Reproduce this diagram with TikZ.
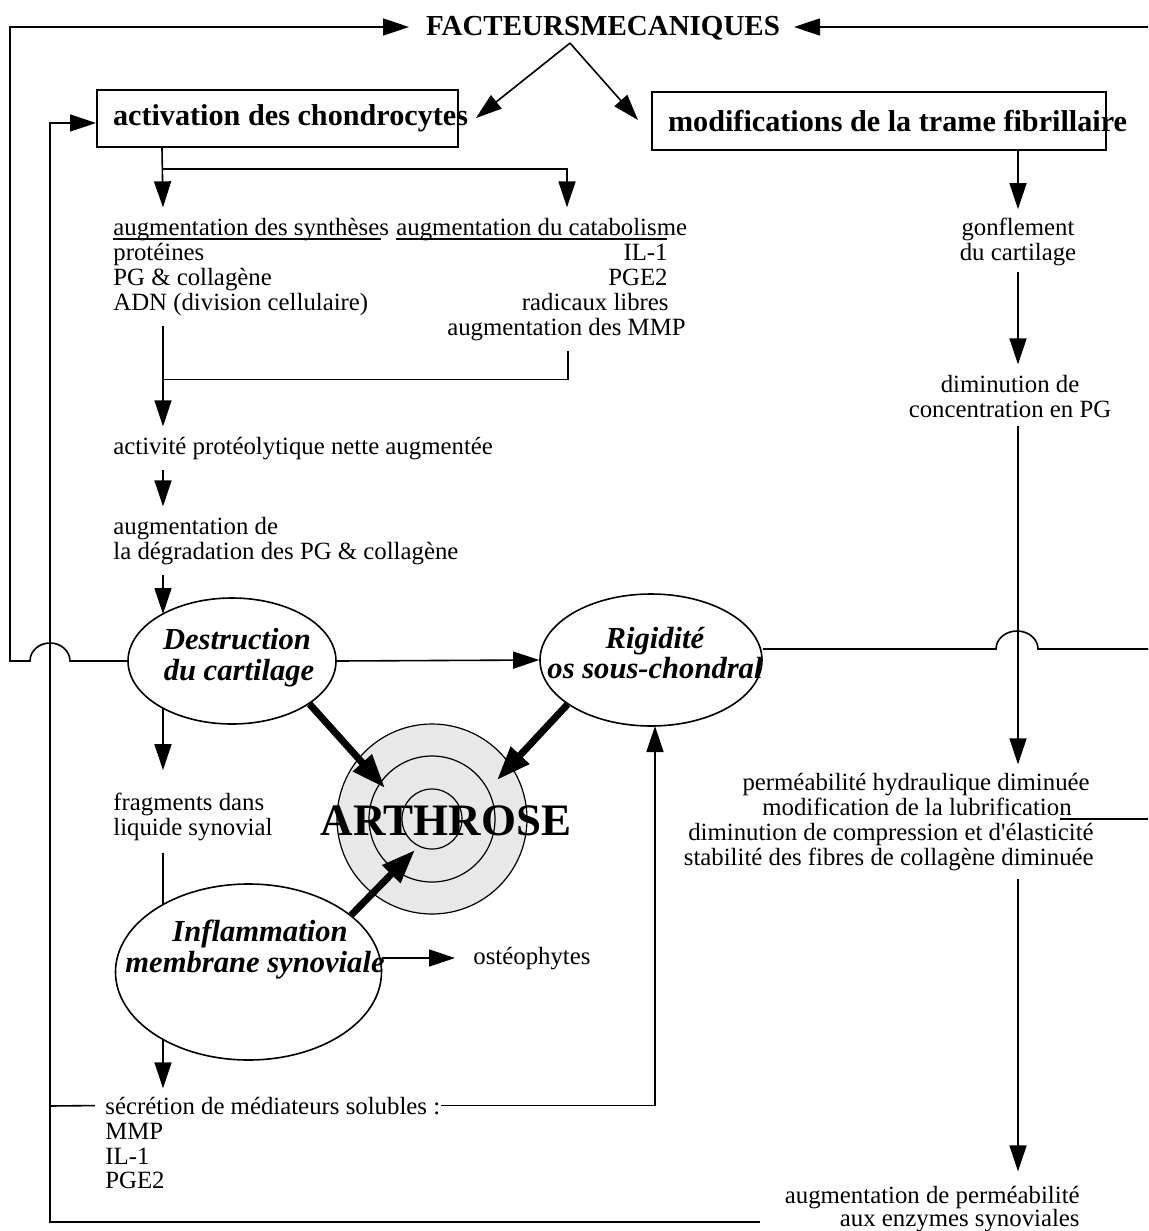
\documentclass[tikz,border=0pt]{standalone}
\usepackage{fontspec}
\setmainfont{Liberation Serif}[Ligatures=TeXOff]
\usetikzlibrary{arrows.meta,shapes.geometric,calc}
\definecolor{tgfill}{gray}{0.91}
\begin{document}
\begin{tikzpicture}[x=0.5pt,y=-0.5pt,
  ln/.style={line width=0.8pt},
  arr/.style={line width=0.8pt,-{Triangle[length=13pt,width=8.5pt]}},
  thk/.style={line width=3.5pt,-{Triangle[length=17pt,width=12pt]}},
  tx/.style={inner sep=0pt,font=\fontsize{12.4}{12.4}\selectfont},
  btx/.style={inner sep=0pt,font=\fontsize{14.5}{14.5}\selectfont\bfseries},
  itx/.style={inner sep=0pt,font=\fontsize{15.3}{15.3}\selectfont\bfseries\itshape},
  bigtx/.style={inner sep=0pt,font=\fontsize{22.5}{22.5}\selectfont\bfseries},
  ell/.style={draw,ellipse,line width=0.8pt,inner sep=0pt},
  box/.style={draw,rectangle,line width=1pt,inner sep=0pt,font=\fontsize{15.1}{15.1}\selectfont\bfseries},
  ring/.style={draw,circle,line width=0.6pt,inner sep=0pt},
  uline/.style={line width=1.3pt}
]
\useasboundingbox (0,0) rectangle (1148,1231);

% ---------- title and boxes
\node[btx,anchor=base] (fm) at (603,35) {FACTEURSMECANIQUES};
\node[box,minimum width=180.5pt,minimum height=28.5pt] (act) at (277.5,118.5)
  {\makebox[180.5pt][l]{\hspace{8pt}activation des chondrocytes}};
\node[box,minimum width=227pt,minimum height=29pt] (mod) at (879,121)
  {\makebox[227pt][l]{\hspace{8pt}modifications de la trame fibrillaire}};

\coordinate (apex) at ($(fm.south)+(-33,3)$);
\coordinate (tA) at (476,118);
\coordinate (tB) at (638,120);
\draw[arr] (apex) -- (tA);
\draw[arr] (apex) -- (tB);

% ---------- ellipses and target
\node[ell,minimum width=104pt,minimum height=63pt] (dest) at (232,661) {};
\node[ell,minimum width=111pt,minimum height=66pt] (rig) at (651,660) {};
\node[ell,minimum width=133pt,minimum height=88pt] (infl) at (248.5,972) {};
\node[itx,anchor=base] (dt1) at (237,649) {Destruction};
\node[itx,anchor=base] (dt2) at (239,680) {du cartilage};
\node[itx,anchor=base] (rt1) at (655,648) {Rigidité};
\node[itx,anchor=base] (rt2) at (655,678) {os sous-chondral};
\node[itx,anchor=base] (it1) at (260,941) {Inflammation};
\node[itx,anchor=base] (it2) at (255,972) {membrane synoviale};

\node[ring,fill=tgfill,minimum size=95pt] (tg) at (432,819) {};
\node[ring,minimum size=63pt] (tg2) at (tg) {};
\node[ring,minimum size=30pt] (tg3) at (tg) {};
\node[bigtx,anchor=base] (arth) at (446,835) {ARTHROSE};

\draw[thk] (dest.-29) -- ($(tg)+(-47,-31)$);
\draw[thk] (rig.-152) -- ($(tg)+(65,-39)$);
\draw[thk] (infl.29) -- ($(tg)+(-17,31)$);

% ---------- outer loops
\coordinate (tL) at (409,27);
\coordinate (tR) at (794,27);
\coordinate (eR) at (1148,27);
\draw[arr] (eR) -- (tR);
\draw[arr] (dest.west) -- (70,661)
  arc[start angle=0,end angle=180,x radius=10pt,y radius=9pt] -- (10,661) |- (tL);

\coordinate (lvtop) at (50,123);
\coordinate (b1) at (760,1222);
\draw[arr] (b1) -| (lvtop) -- (act.west |- lvtop);

\draw[arr] (dest.east) -- (rig.west);
\coordinate (eR2) at (1148,649);
\draw[ln] (rig.east |- eR2) -- (996,649)
  arc[start angle=180,end angle=0,x radius=10.5pt,y radius=9pt] -- (eR2);

% ---------- left column
\node[tx,anchor=base west] (s1) at (113,235) {augmentation des synthèses};
\node[tx,anchor=base west] (s2) at (113,260) {protéines};
\node[tx,anchor=base west] (s3) at (113,285) {PG \& collagène};
\node[tx,anchor=base west] (s4) at (113,310) {ADN (division cellulaire)};
\node[tx,anchor=base west] (c1) at (396,235) {augmentation du catabolisme};
\node[tx,anchor=base east] (c2) at (668,260) {IL-1};
\node[tx,anchor=base east] (c3) at (668,285) {PGE2};
\node[tx,anchor=base east] (c4) at (669,310) {radicaux libres};
\node[tx,anchor=base east] (c5) at (686,335) {augmentation des MMP};
\draw[uline] ($(s1.base west)+(0,4)$) -- ($(s1.base east)+(-8,4)$);
\draw[uline] ($(c1.base west)+(0,4)$) -- ($(c1.base east)+(-20,4)$);

\coordinate (j0) at ($(act.south west)+(66,0)$);
\draw[arr] (j0) -- ($(s1.north west)+(50,-10)$);
\draw[arr] ($(j0)+(0,21)$) -| ($(c1.north west)+(171,-10)$);

\node[tx,anchor=base west] (ac) at (113,454) {activité protéolytique nette augmentée};
\node[tx,anchor=base west] (dg1) at (113,534) {augmentation de};
\node[tx,anchor=base west] (dg2) at (113,559) {la dégradation des PG \& collagène};
\draw[arr] ($(s4.south west)+(50,10)$) -- ($(ac.north west)+(50,-10)$);
\draw[ln] ($(c5.south west)+(121,10)$) |- ($(s4.south west)+(50,64)$);
\draw[arr] ($(ac.south west)+(50,10)$) -- ($(dg1.north west)+(50,-10)$);

\coordinate (tD) at (163,614);
\coordinate (dB) at (163,708);
\coordinate (iT) at (163,905);
\coordinate (iB) at (163,1039);
\coordinate (rB) at (655,726);
\draw[arr] ($(dg2.south west)+(50,10)$) -- (tD);

\node[tx,anchor=base west] (f1) at (113,810) {fragments dans};
\node[tx,anchor=base west] (f2) at (113,835) {liquide synovial};
\draw[arr] (dB) -- ($(f1.north west)+(50,-22)$);
\draw[ln] ($(f2.south west)+(50,12)$) -- (iT);

\node[tx,anchor=base west] (ost) at (473,964) {ostéophytes};
\coordinate (iE) at ([yshift=7pt]infl.east);
\draw[arr] (iE) -- ($(iE -| ost.west)+(-18,0)$);

\node[tx,anchor=base west] (sec) at (105,1114) {sécrétion de médiateurs solubles :};
\node[tx,anchor=base west] (m1) at (105,1139) {MMP};
\node[tx,anchor=base west] (m2) at (105,1164) {IL-1};
\node[tx,anchor=base west] (m3) at (105,1188) {PGE2};
\draw[arr] (iB) -- ($(sec.north west)+(58,-8)$);
\draw[arr] (sec.east) -| (rB);
\coordinate (lvs) at (50,1106);
\draw[ln] (lvs) -- ($(sec.west)+(-10,0)$);

% ---------- right column
\node[tx,anchor=base] (g1) at (1018,235) {gonflement};
\node[tx,anchor=base] (g2) at (1018,260) {du cartilage};
\node[tx,anchor=base] (d1) at (1010,392) {diminution de};
\node[tx,anchor=base] (d2) at (1010,417) {concentration en PG};
\node[tx,anchor=base east] (p1) at (1090,790) {perméabilité hydraulique diminuée};
\node[tx,anchor=base east] (p2) at (1072,815) {modification de la lubrification};
\node[tx,anchor=base east] (p3) at (1094,840) {diminution de compression et d'élasticité};
\node[tx,anchor=base east] (p4) at (1094,865) {stabilité des fibres de collagène diminuée};
\node[tx,anchor=base east] (a1) at (1080,1203) {augmentation de perméabilité};
\node[tx,anchor=base east] (a2) at (1080,1226) {aux enzymes synoviales};

\draw[arr] (mod.south -| g1) -- ($(g1.north)+(0,-8)$);
\draw[arr] ($(g2.south)+(0,6)$) -- ($(g1.north |- d1.north)+(0,-10)$);
\draw[arr] ($(g1.south |- d2.south)+(0,8)$) -- ($(g1.north |- p1.north)+(0,-8)$);
\draw[arr] ($(g1.south |- p4.south)+(0,8)$) -- ($(g1.north |- a1.north)+(0,-14)$);
\coordinate (eR3) at (1148,819);
\draw[ln] ($(p2.base east)+(-12,4)$) -- (eR3);
\end{tikzpicture}
\end{document}
